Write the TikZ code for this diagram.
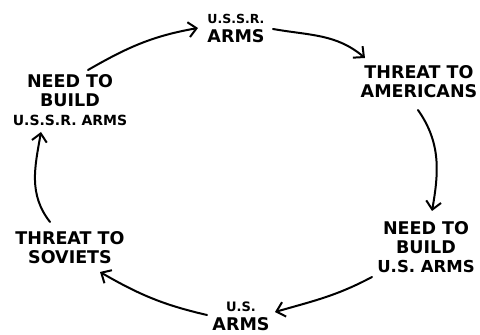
\documentclass[tikz,border=0pt]{standalone}
\usepackage{fontspec}
\setmainfont{DejaVu Sans}
\usetikzlibrary{arrows.meta}
\tikzset{
  lbl/.style={inner sep=0pt, align=center, font=\bfseries\fontsize{17.5}{19}\selectfont},
  arr/.style={line width=2pt, line cap=round, -{Straight Barb[length=8pt,width=15pt,line width=2pt]}}
}
\begin{document}
\begin{tikzpicture}[x=1pt,y=1pt]
\useasboundingbox (0,0) rectangle (480,335);
\node[lbl] (ussr) at (236,307) {{\fontsize{12.5}{15}\selectfont U.S.S.R.}\\ARMS};
\node[lbl] (threatam) at (419,253) {THREAT TO\\AMERICANS};
\node[lbl] (needus) at (426,88) {NEED TO\\BUILD\\{\fontsize{16.5}{19}\selectfont U.S. ARMS}};
\node[lbl] (us) at (241,19) {{\fontsize{13}{15}\selectfont U.S.}\\ARMS};
\node[lbl] (threatsov) at (70,87) {THREAT TO\\SOVIETS};
\node[lbl] (needussr) at (70,235) {NEED TO\\BUILD\\{\fontsize{14}{19}\selectfont U.S.S.R. ARMS}};

\draw[arr] ([shift={(18,30)}]needussr.center) to[out=30,in=190] ([shift={(-38,0)}]ussr.center);
\draw[arr] ([shift={(37,-1)}]ussr.center) to[out=-10,in=140] ([shift={(-54,24)}]threatam.center);
\draw[arr] ([shift={(-1,-28)}]threatam.center) to[out=-55,in=80] ([shift={(6,36)}]needus.center);
\draw[arr] ([shift={(-54,-30)}]needus.center) to[out=208,in=16] ([shift={(34,4)}]us.center);
\draw[arr] ([shift={(-34,1)}]us.center) to[out=167,in=-30] ([shift={(30,-24)}]threatsov.center);
\draw[arr] ([shift={(-20,26)}]threatsov.center) to[out=128,in=-100] ([shift={(-29,-32)}]needussr.center);
\end{tikzpicture}
\end{document}
